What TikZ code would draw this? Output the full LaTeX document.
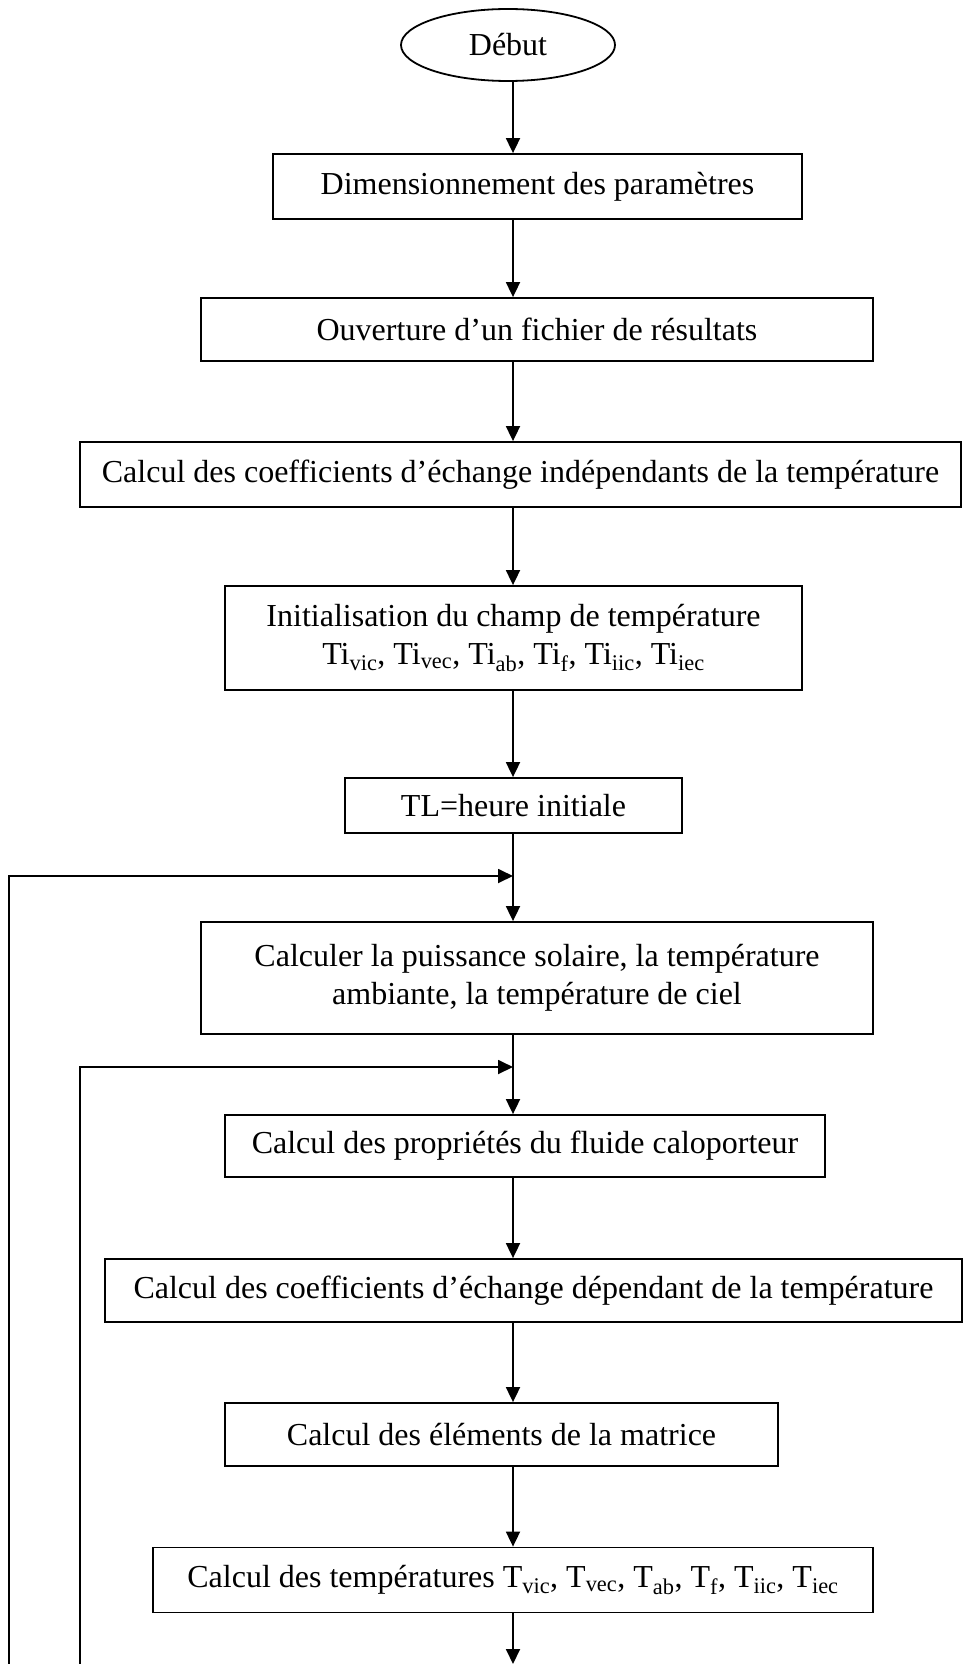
\documentclass[tikz,border=0pt]{standalone}
\usepackage{fontspec}
\setmainfont{Liberation Serif}
\usetikzlibrary{shapes.geometric,arrows.meta}

\tikzset{
  box/.style={draw, rectangle, line width=1.8pt, inner sep=0pt, align=center,
              font=\fontsize{32}{38}\selectfont},
  startnode/.style={draw, ellipse, line width=1.8pt, inner sep=0pt,
              font=\fontsize{32}{38}\selectfont},
  flow/.style={line width=1.8pt, -{Triangle[length=15pt,width=14pt]}},
}

\begin{document}
\begin{tikzpicture}[x=1pt,y=-1pt]
\useasboundingbox (0,0) rectangle (963,1664);

% main vertical axis of the chart
\coordinate (axis) at (513,0);

\node[startnode, minimum width=214pt, minimum height=72pt] (start) at (508,45) {Début};

\node[box, minimum width=529pt, minimum height=65pt] (dim) at (537.5,186.5)
  {Dimensionnement des paramètres};
\node[box, minimum width=672pt, minimum height=63pt] (file) at (537,329.5)
  {Ouverture d’un fichier de résultats};
\node[box, minimum width=881pt, minimum height=65pt] (coefind) at (520.5,474.5)
  {Calcul des coefficients d’échange indépendants de la température};
\node[box, minimum width=577pt, minimum height=104pt] (init) at (513.5,638)
  {Initialisation du champ de température\\
   Ti\textsubscript{vic}, Ti\textsubscript{vec}, Ti\textsubscript{ab}, Ti\textsubscript{f}, Ti\textsubscript{iic}, Ti\textsubscript{iec}};
\node[box, minimum width=337pt, minimum height=55pt] (tl) at (513.5,805.5)
  {TL=heure initiale};
\node[box, minimum width=672pt, minimum height=112pt] (solar) at (537,978)
  {Calculer la puissance solaire, la température\\ ambiante, la température de ciel};
\node[box, minimum width=600pt, minimum height=62pt] (fluid) at (525,1146)
  {Calcul des propriétés du fluide caloporteur};
\node[box, minimum width=857pt, minimum height=63pt] (coefdep) at (533.5,1290.5)
  {Calcul des coefficients d’échange dépendant de la température};
\node[box, minimum width=553pt, minimum height=63pt] (matrix) at (501.5,1434.5)
  {Calcul des éléments de la matrice};
\node[box, minimum width=720pt, minimum height=65pt] (temps) at (513,1580)
  {Calcul des températures T\textsubscript{vic}, T\textsubscript{vec}, T\textsubscript{ab}, T\textsubscript{f}, T\textsubscript{iic}, T\textsubscript{iec}};

% loop return points
\coordinate (outerin) at (513,876);
\coordinate (innerin) at (513,1067);
\coordinate (outerfoot) at (9,1664);
\coordinate (innerfoot) at (80,1664);
\coordinate (exit) at (513,1664);

% straight flow
\draw[flow] (start.south -| axis) -- (dim.north -| axis);
\draw[flow] (dim.south -| axis) -- (file.north -| axis);
\draw[flow] (file.south -| axis) -- (coefind.north -| axis);
\draw[flow] (coefind.south -| axis) -- (init.north -| axis);
\draw[flow] (init.south -| axis) -- (tl.north -| axis);
\draw[flow] (tl.south -| axis) -- (solar.north -| axis);
\draw[flow] (solar.south -| axis) -- (fluid.north -| axis);
\draw[flow] (fluid.south -| axis) -- (coefdep.north -| axis);
\draw[flow] (coefdep.south -| axis) -- (matrix.north -| axis);
\draw[flow] (matrix.south -| axis) -- (temps.north -| axis);
\draw[flow] (temps.south -| axis) -- (exit);

% feedback loops
\draw[flow] (outerfoot) |- (outerin);
\draw[flow] (innerfoot) |- (innerin);
\end{tikzpicture}
\end{document}
